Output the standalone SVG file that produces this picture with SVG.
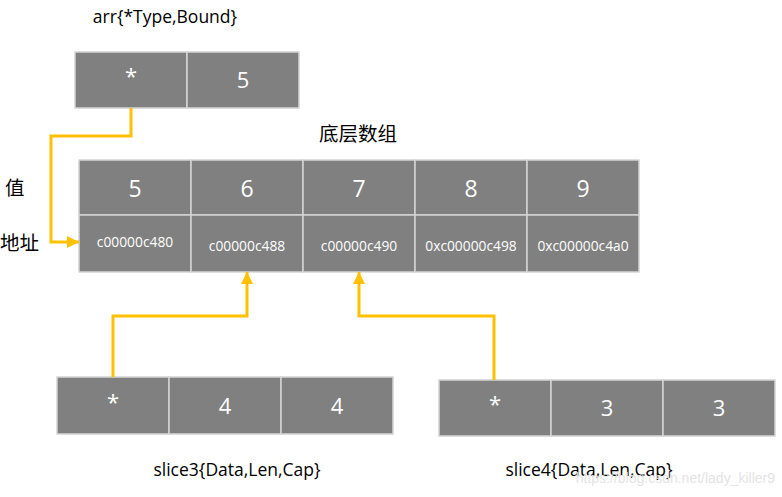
<svg xmlns="http://www.w3.org/2000/svg" width="782" height="497" viewBox="0 0 782 497">
<style>
.cell{fill:#808080;stroke:#d4d4d4;stroke-width:1.5}
.v{font-family:"Open Sans","Liberation Sans",sans-serif;fill:#ffffff;text-anchor:middle}
.big{font-size:23px}
.mid{font-size:22px}
.addr{font-size:13.8px}
.lbl{font-family:"Open Sans","Liberation Sans",sans-serif;font-size:17.5px;fill:#000;text-anchor:middle}
.cjk{font-family:"Noto Sans CJK SC",sans-serif;font-size:19.5px;fill:#000}
.link{fill:none;stroke:#FFC000;stroke-width:3;stroke-linejoin:miter}
</style>
<defs>
<marker id="ah" viewBox="0 0 10 10" refX="10" refY="5" markerWidth="4" markerHeight="4" orient="auto" markerUnits="strokeWidth">
<path d="M0,0 L10,5 L0,10 z" fill="#FFC000"/>
</marker>
</defs>
<rect width="782" height="497" fill="#ffffff"/>

<g id="arr">
<text class="lbl" x="165" y="23">arr{*Type,Bound}</text>
<rect class="cell" x="75" y="52" width="112" height="56"/>
<rect class="cell" x="187" y="52" width="112" height="56"/>
<text class="v mid" x="131" y="84">*</text>
<text class="v mid" x="243" y="88">5</text>
</g>

<g id="array">
<text class="cjk" x="319" y="141">底层数组</text>
<text class="cjk" x="5" y="195">值</text>
<text class="cjk" x="0" y="250">地址</text>
<rect class="cell" x="79" y="160" width="112" height="55"/>
<rect class="cell" x="191" y="160" width="112" height="55"/>
<rect class="cell" x="303" y="160" width="112" height="55"/>
<rect class="cell" x="415" y="160" width="112" height="55"/>
<rect class="cell" x="527" y="160" width="112" height="55"/>
<rect class="cell" x="79" y="215" width="112" height="57"/>
<rect class="cell" x="191" y="215" width="112" height="57"/>
<rect class="cell" x="303" y="215" width="112" height="57"/>
<rect class="cell" x="415" y="215" width="112" height="57"/>
<rect class="cell" x="527" y="215" width="112" height="57"/>
<text class="v big" x="135" y="197">5</text>
<text class="v big" x="247" y="197">6</text>
<text class="v big" x="359" y="197">7</text>
<text class="v big" x="471" y="197">8</text>
<text class="v big" x="583" y="197">9</text>
<text class="v addr" x="135" y="247">c00000c480</text>
<text class="v addr" x="247" y="251">c00000c488</text>
<text class="v addr" x="359" y="251">c00000c490</text>
<text class="v addr" x="471" y="251">0xc00000c498</text>
<text class="v addr" x="583" y="251">0xc00000c4a0</text>
</g>

<g id="slice3">
<rect class="cell" x="57" y="377" width="112" height="57"/>
<rect class="cell" x="169" y="377" width="112" height="57"/>
<rect class="cell" x="281" y="377" width="112" height="57"/>
<text class="v mid" x="113" y="410">*</text>
<text class="v mid" x="225" y="414">4</text>
<text class="v mid" x="337" y="414">4</text>
<text class="lbl" x="237" y="476">slice3{Data,Len,Cap}</text>
</g>

<g id="slice4">
<rect class="cell" x="439" y="380" width="112" height="56"/>
<rect class="cell" x="551" y="380" width="112" height="56"/>
<rect class="cell" x="663" y="380" width="112" height="56"/>
<text class="v mid" x="495" y="412">*</text>
<text class="v mid" x="607" y="416">3</text>
<text class="v mid" x="719" y="416">3</text>
<text class="lbl" x="589" y="476">slice4{Data,Len,Cap}</text>
</g>

<g id="connectors">
<path class="link" d="M131,108 V136 H51 V242 H79" marker-end="url(#ah)"/>
<path class="link" d="M113,377 V316 H247 V272" marker-end="url(#ah)"/>
<path class="link" d="M494,380 V316 H359 V272" marker-end="url(#ah)"/>
</g>

<text x="775" y="483" text-anchor="end" font-family="Liberation Sans,sans-serif" font-size="14" fill="#e4e4e4">https://blog.csdn.net/lady_killer9</text>
</svg>
